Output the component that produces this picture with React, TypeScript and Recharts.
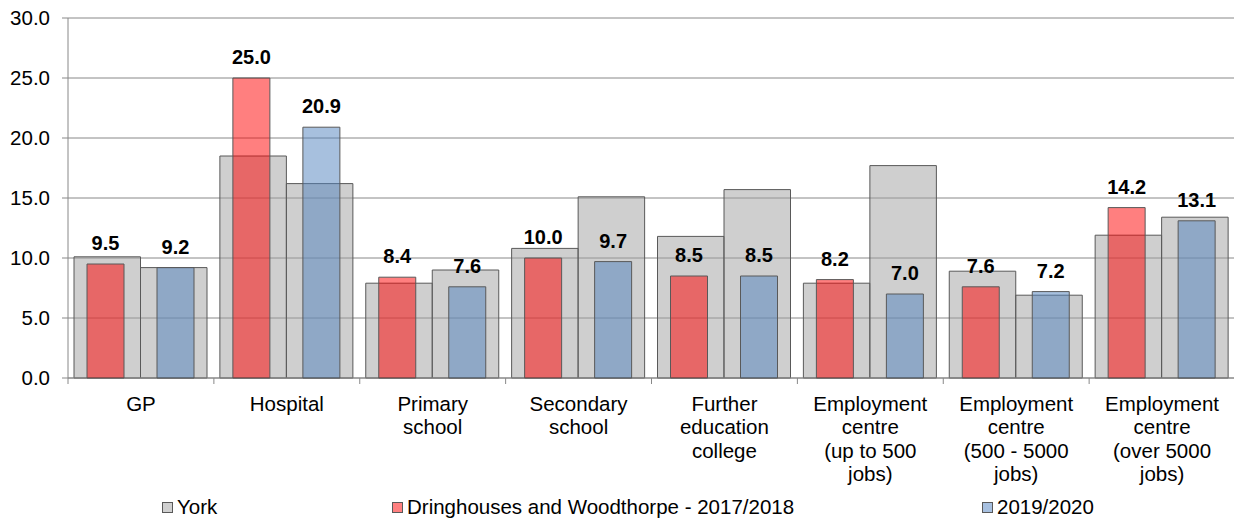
import React from 'react';
import { BarChart, Bar, XAxis, YAxis, CartesianGrid, LabelList } from 'recharts';

// categories and their wrapped tick labels
const categories = [
  'GP',
  'Hospital',
  'Primary school',
  'Secondary school',
  'Further education college',
  'Employment centre (up to 500 jobs)',
  'Employment centre (500 - 5000 jobs)',
  'Employment centre (over 5000 jobs)',
];
const tickLabels = [
  ['GP'],
  ['Hospital'],
  ['Primary', 'school'],
  ['Secondary', 'school'],
  ['Further', 'education', 'college'],
  ['Employment', 'centre', '(up to 500', 'jobs)'],
  ['Employment', 'centre', '(500 - 5000', 'jobs)'],
  ['Employment', 'centre', '(over 5000', 'jobs)'],
];

// York (grey, behind) for each period
const york1718 = [10.1, 18.5, 7.9, 10.8, 11.8, 7.9, 8.9, 11.9];
const york1920 = [9.2, 16.2, 9.0, 15.1, 15.7, 17.7, 6.9, 13.4];
// Dringhouses and Woodthorpe
const dw1718 = [9.5, 25.0, 8.4, 10.0, 8.5, 8.2, 7.6, 14.2];
const dw1920 = [9.2, 20.9, 7.6, 9.7, 8.5, 7.0, 7.2, 13.1];

const yTicks = [0, 5, 10, 15, 20, 25, 30];

const legendItems = [
  { label: 'York', color: '#d0d0d0', left: 162 },
  { label: 'Dringhouses and Woodthorpe - 2017/2018', color: '#ff8080', left: 392 },
  { label: '2019/2020', color: '#a7c0e0', left: 982 },
];

const data = categories.map((name, i) => ({
  name,
  york1718: york1718[i],
  york1920: york1920[i],
  dw1718: dw1718[i],
  dw1920: dw1920[i],
}));

const W = 1235;
const H = 518;
const Y_W = 68;
const X_H = 140;
const MARGIN = { top: 18, right: 0, bottom: 0, left: 0 };
const BAND = (W - Y_W) / categories.length;
const AXIS = '#888888';
const BORDER = '#595959';
const FONT = '"Liberation Sans", Arial, sans-serif';
const FS = 20.5;

const fmt = (v: any) => Number(v).toFixed(1);

const CategoryTick = (props: any) => {
  const { x, y, payload } = props;
  const idx = categories.indexOf(payload.value);
  const lines = tickLabels[idx] || [String(payload.value)];
  const left = x - BAND / 2;
  return (
    <g>
      <line x1={left} y1={y} x2={left} y2={y + 6} stroke={AXIS} />
      <text x={x} y={y} textAnchor="middle" fontSize={FS} fill="#000">
        {lines.map((l, i) => (
          <tspan key={i} x={x} dy={i === 0 ? 32.5 : 23.5}>
            {l}
          </tspan>
        ))}
      </text>
    </g>
  );
};

const layer: React.CSSProperties = { position: 'absolute', left: 0, top: 0 };

export default function App() {
  return (
    <div
      style={{
        position: 'absolute',
        left: 0,
        top: 0,
        width: 1234,
        height: H,
        overflow: 'hidden',
        background: '#fff',
        fontFamily: FONT,
      }}
    >
      <div style={layer}>
        <BarChart width={W} height={H} data={data} margin={MARGIN} barGap={0}>
          <CartesianGrid vertical={false} stroke={AXIS} />
          <XAxis
            dataKey="name"
            height={X_H}
            interval={0}
            stroke={AXIS}
            tickLine={false}
            tickSize={0}
            tickMargin={0}
            tick={<CategoryTick />}
          />
          <YAxis
            width={Y_W}
            domain={[0, 30]}
            ticks={yTicks}
            tickFormatter={fmt}
            stroke={AXIS}
            tickSize={6}
            tickMargin={12}
            tick={{ fill: '#000', fontSize: FS }}
          />
          <Bar dataKey="york1718" barSize={66.5} fill="rgba(160,160,160,0.5)" stroke={BORDER} isAnimationActive={false} />
          <Bar dataKey="york1920" barSize={66.5} fill="rgba(160,160,160,0.5)" stroke={BORDER} isAnimationActive={false} />
        </BarChart>
      </div>
      <div style={layer}>
        <BarChart width={W} height={H} data={data} margin={MARGIN} barGap={33}>
          <XAxis dataKey="name" height={X_H} tick={false} axisLine={false} tickLine={false} />
          <YAxis width={Y_W} domain={[0, 30]} ticks={yTicks} tick={false} axisLine={false} tickLine={false} />
          <Bar dataKey="dw1718" barSize={37} fill="rgba(255,0,0,0.5)" stroke={BORDER} isAnimationActive={false}>
            <LabelList dataKey="dw1718" position="top" offset={14} formatter={fmt} fill="#000" fontSize={20} fontWeight="bold" />
          </Bar>
          <Bar dataKey="dw1920" barSize={37} fill="rgba(79,129,189,0.5)" stroke={BORDER} isAnimationActive={false}>
            <LabelList dataKey="dw1920" position="top" offset={14} formatter={fmt} fill="#000" fontSize={20} fontWeight="bold" />
          </Bar>
        </BarChart>
      </div>
      {legendItems.map((item) => (
        <div
          key={item.label}
          style={{
            position: 'absolute',
            left: item.left,
            top: 497,
            height: 20,
            display: 'flex',
            alignItems: 'center',
            fontSize: FS,
            lineHeight: '20px',
            color: '#000',
            whiteSpace: 'nowrap',
          }}
        >
          <span
            style={{
              display: 'inline-block',
              width: 9,
              height: 9,
              background: item.color,
              border: `1px solid ${BORDER}`,
              marginRight: 4,
            }}
          />
          {item.label}
        </div>
      ))}
    </div>
  );
}
